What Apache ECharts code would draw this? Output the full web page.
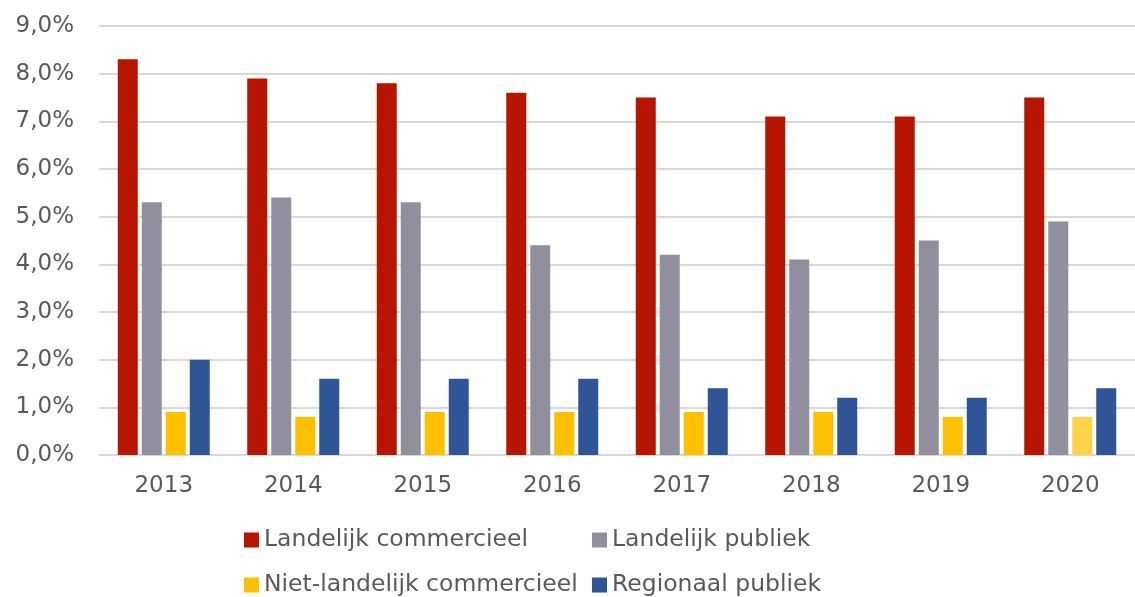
<!DOCTYPE html>
<html>
<head>
<meta charset="utf-8">
<script src="https://cdn.jsdelivr.net/npm/echarts@6/dist/echarts.min.js"></script>
<style>
  html, body { margin: 0; padding: 0; background: #fff; }
  #chart { width: 1135px; height: 597px; }
</style>
</head>
<body>
<div id="chart"></div>
<script>
const years = ['2013', '2014', '2015', '2016', '2017', '2018', '2019', '2020']
const landelijkCommercieel = [8.3, 7.9, 7.8, 7.6, 7.5, 7.1, 7.1, 7.5]
const landelijkPubliek = [5.3, 5.4, 5.3, 4.4, 4.2, 4.1, 4.5, 4.9]
const nietLandelijkCommercieel = [0.9, 0.8, 0.9, 0.9, 0.9, 0.9, 0.8, 0.8]
const regionaalPubliek = [2.0, 1.6, 1.6, 1.6, 1.4, 1.2, 1.2, 1.4]

const names = ['Landelijk commercieel', 'Landelijk publiek', 'Niet-landelijk commercieel', 'Regionaal publiek']
const colors = ['#B81501', '#918E9D', '#FFC000', '#2F5597']

const chart = echarts.init(document.getElementById('chart'))

const font = "'DejaVu Sans', sans-serif"
const textColor = '#595959'

// legenda: vier losse blokjes zodat de kolommen netjes uitlijnen
const legendPos = [
  { left: 244, top: 528 },
  { left: 592, top: 528 },
  { left: 244, top: 573 },
  { left: 592, top: 573 }
]
const legends = names.map((n, i) => ({
  data: [n],
  left: legendPos[i].left,
  top: legendPos[i].top,
  padding: 0,
  itemWidth: 15,
  itemHeight: 15,
  itemGap: 0,
  icon: 'rect',
  selectedMode: false,
  textStyle: { fontFamily: font, fontSize: 23.5, lineHeight: 24, color: textColor }
}))

const seriesData = [landelijkCommercieel, landelijkPubliek, nietLandelijkCommercieel, regionaalPubliek]

const series = seriesData.map((d, i) => ({
  name: names[i],
  type: 'bar',
  barWidth: 20,
  barGap: '20%',
  itemStyle: { color: colors[i] },
  data: d.map((v, j) => {
    // 2020 geel is wat lichter in het origineel
    if (i === 2 && j === 7) return { value: v, itemStyle: { color: '#FFD347' } }
    return v
  })
}))

chart.setOption({
  animation: false,
  legend: legends,
  grid: { left: 99, top: 26, width: 1046, height: 429 },
  xAxis: {
    type: 'category',
    data: years,
    axisLine: { lineStyle: { color: '#d9d9d9', width: 2 } },
    axisTick: { show: false },
    axisLabel: { fontFamily: font, fontSize: 23, color: textColor, margin: 20 }
  },
  yAxis: {
    type: 'value',
    min: 0,
    max: 9,
    interval: 1,
    axisLine: { show: false },
    axisTick: { show: false },
    splitLine: { lineStyle: { color: '#d9d9d9', width: 2 } },
    axisLabel: {
      fontFamily: font,
      fontSize: 23,
      color: textColor,
      margin: 25,
      formatter: (v) => v.toFixed(1).replace('.', ',') + '%'
    }
  },
  series: series
})
</script>
</body>
</html>
